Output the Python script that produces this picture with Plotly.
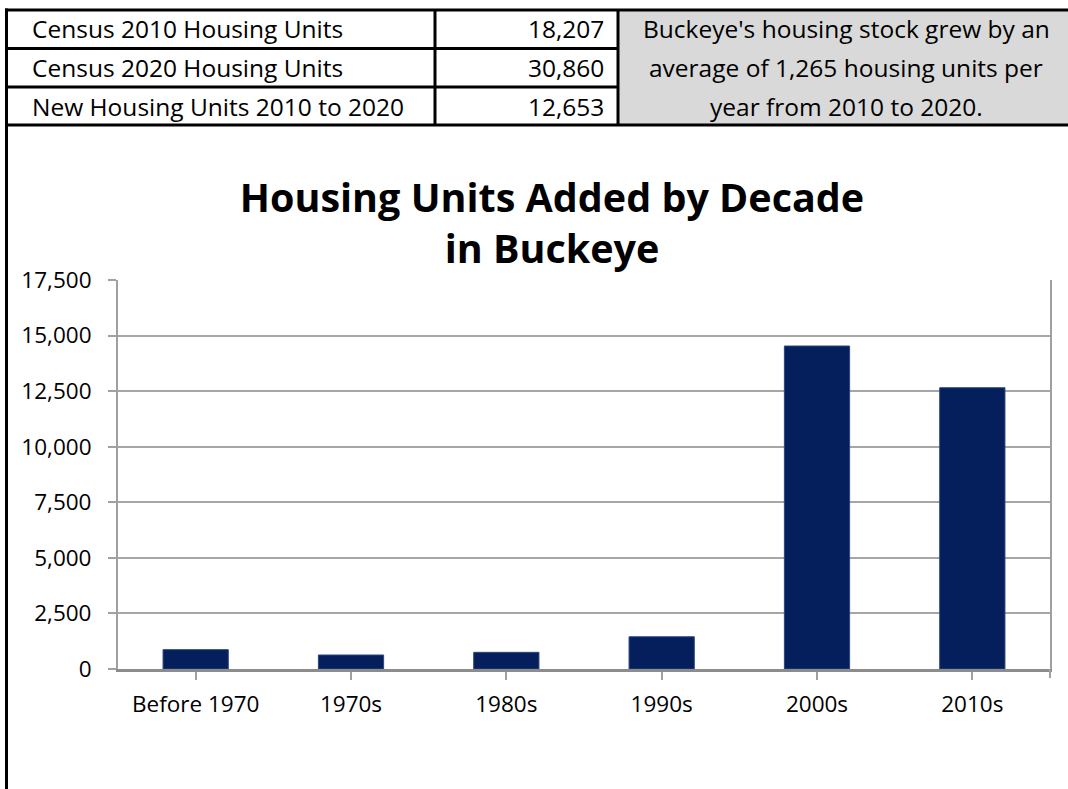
import plotly.graph_objects as go

# ---- data ----
decades = ["Before 1970", "1970s", "1980s", "1990s", "2000s", "2010s"]
units_added = [870, 630, 750, 1450, 14530, 12653]

table_labels = ["Census 2010 Housing Units", "Census 2020 Housing Units", "New Housing Units 2010 to 2020"]
table_values = ["18,207", "30,860", "12,653"]
note_lines = ["Buckeye's housing stock grew by an", "average of 1,265 housing units per", "year from 2010 to 2020."]

title_text = "Housing Units Added by Decade<br>in Buckeye"

# ---- layout geometry (pixels) ----
W, H = 1068, 789
L, R, T, B = 118, 18, 280, 120
PW, PH = W - L - R, H - T - B
FONT = "Open Sans"


def px(x):
    return (x - L) / PW


def py(y):
    return 1 - (y - T) / PH


fig = go.Figure(go.Bar(
    x=decades, y=units_added, width=0.42,
    marker=dict(color="#041F5C", line=dict(color="#2A4580", width=1)),
))

shapes = []
# gray note cell
shapes.append(dict(type="rect", xref="paper", yref="paper", x0=px(618), x1=px(1070), y0=py(10), y1=py(125),
                   fillcolor="#D9D9D9", line=dict(width=0), layer="below"))
lw = 3
def hline(y, x0, x1):
    shapes.append(dict(type="line", xref="paper", yref="paper", x0=px(x0), x1=px(x1), y0=py(y), y1=py(y),
                       line=dict(color="black", width=lw)))
def vline(x, y0, y1):
    shapes.append(dict(type="line", xref="paper", yref="paper", x0=px(x), x1=px(x), y0=py(y0), y1=py(y1),
                       line=dict(color="black", width=lw)))

hline(10, 5, 1070)
hline(48.5, 5, 618)
hline(87, 5, 618)
hline(125, 5, 1070)
vline(6.5, 8.5, 795)
vline(435, 10, 125)
vline(618, 10, 125)
# extra tick at right end of category axis
shapes.append(dict(type="line", xref="paper", yref="paper", x0=1, x1=1, y0=0, y1=py(678),
                   line=dict(color="#A0A0A0", width=2)))

annotations = []
row_y = [29, 68, 106]
TS = 24.5
for lab, val, note, yy in zip(table_labels, table_values, note_lines, row_y):
    annotations.append(dict(xref="paper", yref="paper", x=px(30), y=py(yy), text=lab, showarrow=False,
                            xanchor="left", yanchor="middle", font=dict(family=FONT, size=TS, color="black")))
    annotations.append(dict(xref="paper", yref="paper", x=px(606), y=py(yy), text=val, showarrow=False,
                            xanchor="right", yanchor="middle", font=dict(family=FONT, size=TS, color="black")))
    annotations.append(dict(xref="paper", yref="paper", x=px(846), y=py(yy), text=note, showarrow=False,
                            xanchor="center", yanchor="middle", font=dict(family=FONT, size=TS, color="black")))

fig.update_layout(
    width=W, height=H,
    margin=dict(l=L, r=R, t=T, b=B),
    paper_bgcolor="white", plot_bgcolor="white",
    showlegend=False,
    title=dict(text=title_text, x=552 / W, xref="container", xanchor="center",
               y=1 - 212 / H, yref="container", yanchor="middle",
               font=dict(family=FONT, size=39.5, color="black", weight="bold")),
    shapes=shapes,
    annotations=annotations,
    font=dict(family=FONT, size=22.5, color="black"),
)
fig.update_yaxes(range=[0, 17500], dtick=2500, tickformat=",", showgrid=True, gridcolor="#A6A6A6", gridwidth=2,
                 showline=True, linecolor="#A0A0A0", linewidth=2, mirror=True,
                 ticks="outside", ticklen=8, tickcolor="#A0A0A0", tickwidth=2, ticklabelstandoff=12,
                 tickfont=dict(family=FONT, size=22.5, color="black"), zeroline=False, fixedrange=True)
fig.update_xaxes(showline=True, linecolor="#8C8C8C", linewidth=3,
                 ticks="outside", ticklen=8, tickcolor="#A0A0A0", tickwidth=2, ticklabelstandoff=5,
                 tickfont=dict(family=FONT, size=22.5, color="black"), fixedrange=True)

fig.write_html("out.html")
